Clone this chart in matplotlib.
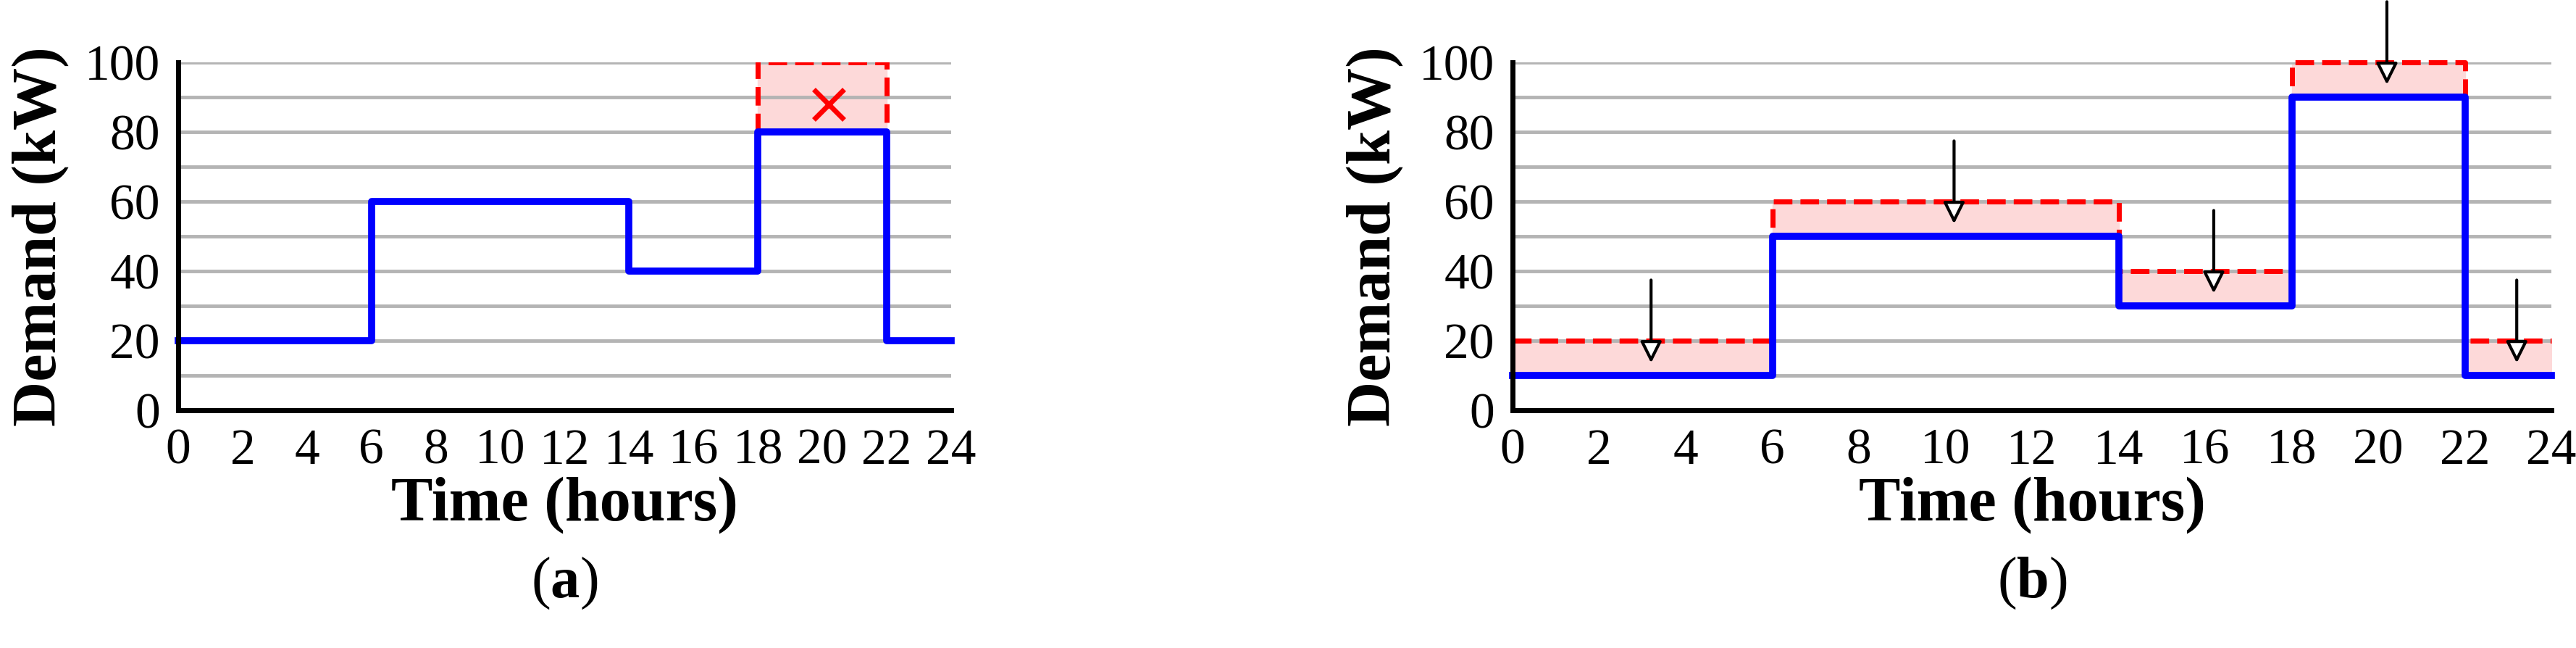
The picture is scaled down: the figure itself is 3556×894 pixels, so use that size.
import matplotlib
matplotlib.use("Agg")
import matplotlib.pyplot as plt

plt.rcParams['font.family'] = ['Liberation Serif', 'DejaVu Serif']

edges = [0, 6, 14, 18, 22, 24]
demand_a = [20, 60, 40, 80, 20]
limit_a_x = [18, 22]
limit_a_y = 100
demand_b = [10, 50, 30, 90, 10]
limit_b = [20, 60, 40, 100, 20]
arrow_x = [3.2, 10.2, 16.2, 20.2, 23.2]
xticks = list(range(0, 25, 2))
yticks = list(range(0, 101, 20))

fig = plt.figure(figsize=(35.56, 8.94), dpi=100)
ax_a = fig.add_axes([246/3556, 1-566/894, (1313-246)/3556, (566-86)/894])
ax_b = fig.add_axes([2088/3556, 1-566/894, (3522-2088)/3556, (566-86)/894])

def style(ax):
    ax.set_xlim(0, 24)
    ax.set_ylim(0, 100)
    ax.set_xticks(xticks)
    ax.set_yticks(yticks)
    ax.set_yticks(range(10, 101, 10), minor=True)
    ax.grid(True, which='both', axis='y', color='#b4b4b4', lw=3.5, zorder=0)
    ax.tick_params(length=0, which='both', labelsize=50, pad=18)
    for s in ['top', 'right']:
        ax.spines[s].set_visible(False)
    for s in ['left', 'bottom']:
        ax.spines[s].set_linewidth(5)
        ax.spines[s].set_zorder(5)
    ax.set_xlabel('Time (hours)', fontsize=62, fontweight='bold', labelpad=2)
    ax.set_ylabel('Demand (kW)', fontsize=62, fontweight='bold', labelpad=15)

def steps(vals):
    xs, ys = [], []
    for i, v in enumerate(vals):
        xs += [edges[i], edges[i+1]]
        ys += [v, v]
    return xs, ys

def caption(x, letter):
    fig.text(x, 0.10, '(' + r'$\mathbf{' + letter + '}$' + ')', fontsize=58,
             ha='center', va='center')

plt.rcParams['mathtext.fontset'] = 'custom'
plt.rcParams['mathtext.bf'] = 'Liberation Serif:bold'

# (a)
style(ax_a)
ax_a.fill_between(limit_a_x, 80, limit_a_y, color='#fdd9d9', zorder=1)
ax_a.plot([18, 18, 22, 22], [80, limit_a_y, limit_a_y, 80], color='red', ls='--', lw=5, zorder=3)
xs, ys = steps(demand_a)
ax_a.plot(xs, ys, color='#0000ff', lw=7, zorder=4, clip_on=False)
ax_a.plot([20.2], [88], marker='x', color='red', ms=30, mew=5, zorder=4)
caption((246+1313)/2/3556, 'a')

# (b)
style(ax_b)
xs, ys = steps(demand_b)
lx, ly = steps(limit_b)
ax_b.fill_between(xs, ys, ly, color='#fdd9d9', zorder=1)
ax_b.plot(lx, ly, color='red', ls='--', lw=5, zorder=3, clip_on=False)
ax_b.plot(xs, ys, color='#0000ff', lw=7, zorder=4, clip_on=False)
for i, x in enumerate(arrow_x):
    top = limit_b[i]
    ax_b.annotate('', xy=(x, top - 7), xytext=(x, top + 18),
                  arrowprops=dict(arrowstyle='-|>,head_length=1.8,head_width=0.9',
                                  fc='white', ec='black', lw=3),
                  zorder=6, annotation_clip=False)
caption((2088+3522)/2/3556, 'b')

fig.savefig('out.png', dpi=100)
